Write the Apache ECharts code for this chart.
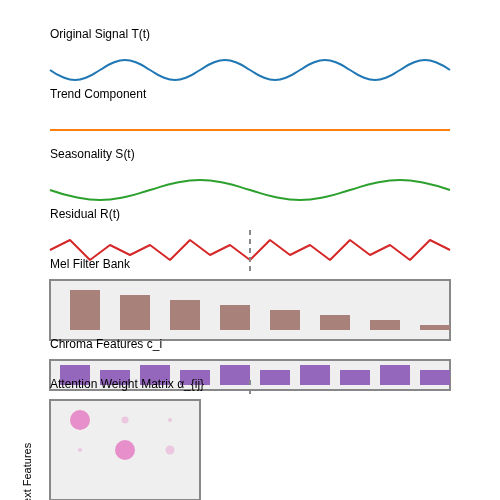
<!DOCTYPE html>
<html><head><meta charset="utf-8">
<script src="https://cdn.jsdelivr.net/npm/echarts@6/dist/echarts.min.js"></script>
<style>html,body{margin:0;background:#fff}#c{width:500px;height:500px}</style>
</head><body><div id="c"></div>
<script>
const titles = ['Original Signal T(t)','Trend Component','Seasonality S(t)','Residual R(t)','Mel Filter Bank','Chroma Features c_i','Attention Weight Matrix α_{ij}'];
const originalSignal = [0,-0.7,-1,-0.7,0,0.7,1,0.7, 0,-0.7,-1,-0.7,0,0.7,1,0.7, 0,-0.7,-1,-0.7,0,0.7,1,0.7, 0,-0.7,-1,-0.7,0,0.7,1,0.7, 0];
const trend = [0,0];
const seasonality = [0,-0.7,-1,-0.7,0,0.7,1,0.7, 0,-0.7,-1,-0.7,0,0.7,1,0.7, 0];
const residual = [0,10,-10,5,-5,5,-10,10,-5,5,-10,10,-5,5,-10,10,-5,5,-10,10,0];
const melFilters = [40,35,30,25,20,15,10,5];
const chroma = [20,15,20,15,20,15,20,15,20,15];
const attention = [[0,0,1.0],[1,0,0.35],[2,0,0.2],[0,1,0.2],[1,1,1.0],[2,1,0.45]];
const yAxisLabel = 'Context Features';

const pairs = (arr, span) => arr.map((v,i)=>[i*span/(arr.length-1), v]);
const grids = [
 {left:50,top:60,width:400,height:20},
 {left:50,top:120,width:400,height:20},
 {left:50,top:180,width:400,height:20},
 {left:50,top:230,width:400,height:45},
 {left:50,top:280,width:400,height:60,show:true,backgroundColor:'#efefef',borderColor:'#888',borderWidth:2},
 {left:50,top:360,width:400,height:30,show:true,backgroundColor:'#efefef',borderColor:'#888',borderWidth:2},
 {left:50,top:400,width:150,height:150,show:true,backgroundColor:'#efefef',borderColor:'#888',borderWidth:2},
 {left:0,top:0,width:500,height:500}
];
const hid = {show:false};
const xAxes = [
 {gridIndex:0,type:'value',min:0,max:400,show:false},
 {gridIndex:1,type:'value',min:0,max:400,show:false},
 {gridIndex:2,type:'value',min:0,max:400,show:false},
 {gridIndex:3,type:'value',min:0,max:400,show:false},
 {gridIndex:4,type:'value',min:0,max:400,show:false},
 {gridIndex:5,type:'value',min:0,max:400,show:false},
 {gridIndex:6,type:'value',min:-2/3,max:8/3,show:false},
 {gridIndex:7,type:'value',min:0,max:500,show:false}
];
const yAxes = [
 {gridIndex:0,type:'value',min:-1,max:1,show:false},
 {gridIndex:1,type:'value',min:-1,max:1,show:false},
 {gridIndex:2,type:'value',min:-1,max:1,show:false},
 {gridIndex:3,type:'value',min:-25,max:20,show:false},
 {gridIndex:4,type:'value',min:-10,max:50,show:false},
 {gridIndex:5,type:'value',min:-5,max:25,show:false},
 {gridIndex:6,type:'value',min:-2/3,max:8/3,inverse:true,show:false},
 {gridIndex:7,type:'value',min:0,max:500,inverse:true,show:false}
];
const lineBase = {type:'line',symbol:'none',silent:true,lineStyle:{width:2}};
const series = [
 {...lineBase,xAxisIndex:0,yAxisIndex:0,smooth:0.5,data:pairs(originalSignal,400),lineStyle:{width:2,color:'#1f77b4'}},
 {...lineBase,xAxisIndex:1,yAxisIndex:1,data:pairs(trend,400),lineStyle:{width:2,color:'#ff7f0e'}},
 {...lineBase,xAxisIndex:2,yAxisIndex:2,smooth:0.5,data:pairs(seasonality,400),lineStyle:{width:2,color:'#2ca02c'}},
 {...lineBase,xAxisIndex:3,yAxisIndex:3,data:pairs(residual,400),lineStyle:{width:2,color:'#d62728'}},
 {type:'bar',xAxisIndex:4,yAxisIndex:4,barWidth:30,itemStyle:{color:'#a8827a'},data:melFilters.map((v,i)=>[35+i*50,v])},
 {type:'bar',xAxisIndex:5,yAxisIndex:5,barWidth:30,itemStyle:{color:'#9467bd'},data:chroma.map((v,i)=>[25+i*40,v])},
 {type:'scatter',xAxisIndex:6,yAxisIndex:6,data:attention,symbolSize:d=>d[2]*20,
  itemStyle:{color:p=>p.data[2]>0.9?'#e377c2':'rgba(227,119,194,0.4)'}},
 {...lineBase,xAxisIndex:7,yAxisIndex:7,data:[[250,230],[250,275]],lineStyle:{width:2,color:'#888',type:[5,4]}},
 {...lineBase,xAxisIndex:7,yAxisIndex:7,data:[[250,380],[250,395]],lineStyle:{width:2,color:'#888',type:[5,4]}}
];
const titleY = [36,96,156,216,266,346,386];
const graphic = titles.map((t,i)=>({type:'text',left:50,top:titleY[i]-7,z:100,style:{text:t,font:'12px "Liberation Sans", Arial',fill:'#000'}}));
graphic.push({type:'text',x:33,y:485,rotation:Math.PI/2,style:{text:yAxisLabel,font:'11px "Liberation Sans", Arial',fill:'#000',align:'center',verticalAlign:'bottom'}});
const chart = echarts.init(document.getElementById('c'));
chart.setOption({animation:false,grid:grids,xAxis:xAxes,yAxis:yAxes,series,graphic});
</script></body></html>
